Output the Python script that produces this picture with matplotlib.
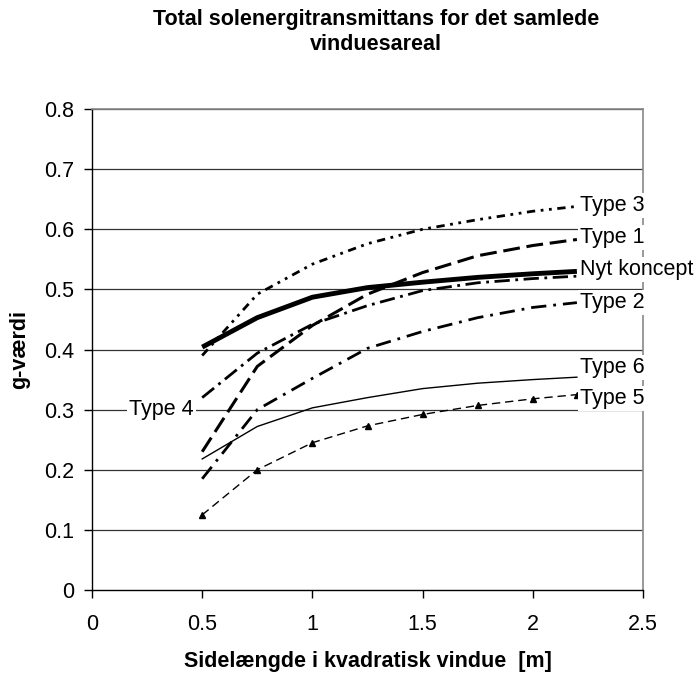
import matplotlib
matplotlib.use("Agg")
import matplotlib.pyplot as plt

plt.rcParams['font.family'] = ['Liberation Sans', 'DejaVu Sans']

x = [0.5, 0.75, 1.0, 1.25, 1.5, 1.75, 2.0, 2.2]
type3 = [0.390, 0.492, 0.542, 0.576, 0.600, 0.616, 0.630, 0.638]
type1 = [0.230, 0.372, 0.440, 0.492, 0.528, 0.556, 0.573, 0.583]
nyt = [0.404, 0.453, 0.487, 0.503, 0.512, 0.520, 0.526, 0.530]
type4 = [0.320, 0.394, 0.442, 0.473, 0.498, 0.511, 0.518, 0.522]
type2 = [0.185, 0.300, 0.352, 0.402, 0.430, 0.453, 0.470, 0.478]
type6 = [0.218, 0.272, 0.303, 0.320, 0.335, 0.344, 0.350, 0.354]
type5 = [0.125, 0.200, 0.245, 0.273, 0.292, 0.307, 0.318, 0.325]

title = "Total solenergitransmittans for det samlede\nvinduesareal"
xlabel = "Sidelængde i kvadratisk vindue  [m]"
ylabel = "g-værdi"
xticks = [0, 0.5, 1, 1.5, 2, 2.5]
yticks = [0, 0.1, 0.2, 0.3, 0.4, 0.5, 0.6, 0.7, 0.8]

fig = plt.figure(figsize=(7.0, 6.73), dpi=100)
ax = fig.add_axes([0.1314, 0.1233, 0.9186 - 0.1314, 0.838 - 0.1233])

for yv in yticks[1:]:
    ax.axhline(yv, color='#333333', lw=0.9, zorder=1)

ax.plot(x, type3, color='black', lw=2.0, linestyle=(0, (3, 2, 1, 2, 1, 2)), zorder=3)
ax.plot(x, type1, color='black', lw=2.2, linestyle=(0, (5.5, 2.2)), zorder=3)
ax.plot(x, nyt, color='black', lw=3.5, linestyle='-', zorder=4, solid_capstyle='butt')
ax.plot(x, type4, color='black', lw=2.0, linestyle=(0, (5.5, 2, 1, 2)), zorder=3)
ax.plot(x, type2, color='black', lw=2.0, linestyle=(0, (5.5, 2.5, 1, 2.5)), zorder=3)
ax.plot(x, type6, color='black', lw=1.0, linestyle='-', zorder=3)
ax.plot(x, type5, color='black', lw=1.0, linestyle=(0, (6, 3.5)), marker='^',
        markersize=4.5, zorder=3)

ax.set_xlim(0, 2.5)
ax.set_ylim(0, 0.8)
ax.set_xticks(xticks)
ax.set_xticklabels(['0', '0.5', '1', '1.5', '2', '2.5'])
ax.set_yticks(yticks)
ax.set_yticklabels(['0', '0.1', '0.2', '0.3', '0.4', '0.5', '0.6', '0.7', '0.8'])
ax.tick_params(axis='both', direction='out', length=6, width=1, labelsize=15.5,
               colors='black')
ax.tick_params(axis='y', pad=7)
ax.tick_params(axis='x', pad=11)

for side in ['top', 'right']:
    ax.spines[side].set_color('#888888')
    ax.spines[side].set_linewidth(1.2)
for side in ['left', 'bottom']:
    ax.spines[side].set_color('black')
    ax.spines[side].set_linewidth(1.0)

box = dict(facecolor='white', edgecolor='none', pad=1.5)
lab_x = 2.214
labels = [("Type 3", 0.640), ("Type 1", 0.586), ("Nyt koncept", 0.533),
          ("Type 2", 0.478), ("Type 6", 0.370), ("Type 5", 0.319)]
for txt, yv in labels:
    ax.text(lab_x, yv, txt, fontsize=15.5, ha='left', va='center', bbox=box,
            zorder=6, clip_on=False)
ax.text(0.168, 0.300, "Type 4", fontsize=15.5, ha='left', va='center', bbox=box, zorder=6)

fig.text(0.537, 0.9525, title, ha='center', va='center', fontsize=15.5,
         fontweight='bold', linespacing=1.25)
ax.set_xlabel(xlabel, fontsize=15.5, fontweight='bold', labelpad=12)
ax.set_ylabel(ylabel, fontsize=15.5, fontweight='bold', labelpad=10)

fig.savefig('out.png', dpi=100)
